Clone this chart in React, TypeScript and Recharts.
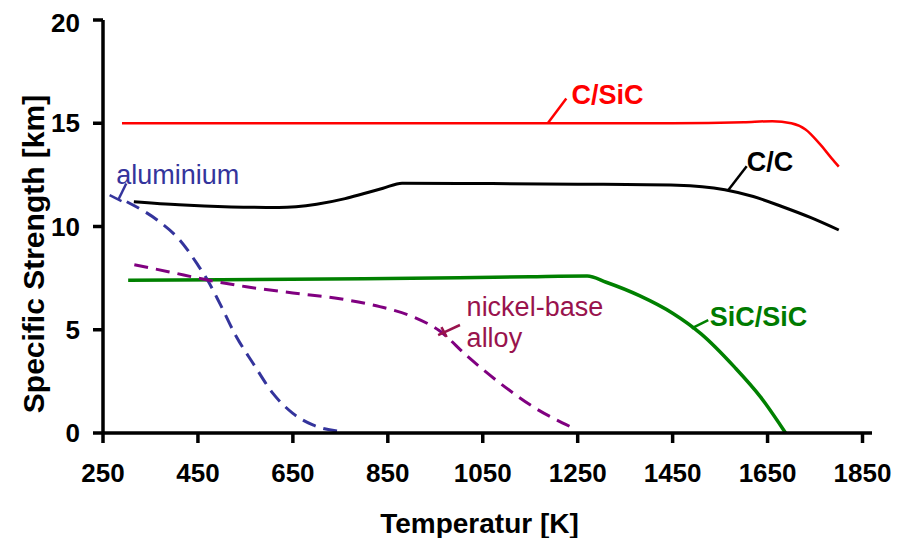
import {
  LineChart,
  Line,
  XAxis,
  YAxis,
  ReferenceLine,
  ReferenceDot,
} from "recharts";

// Specific strength [km] vs temperature [K]
const cSicT = [290, 700, 1100, 1450, 1600, 1660, 1700, 1730, 1760, 1785, 1800];
const cSicS = [15, 15, 15, 15, 15.05, 15.1, 15.0, 14.7, 14.0, 13.3, 12.9];

const ccT = [315, 410, 520, 620, 700, 760, 800, 840, 880, 1050, 1250, 1460, 1560, 1620, 1680, 1740, 1800];
const ccS = [11.2, 11.05, 10.95, 10.92, 11.08, 11.35, 11.6, 11.85, 12.1, 12.08, 12.05, 12.0, 11.78, 11.45, 10.97, 10.44, 9.83];

const sicT = [303, 500, 800, 1000, 1150, 1270, 1310, 1380, 1450, 1510, 1580, 1635, 1688];
const sicS = [7.4, 7.42, 7.47, 7.52, 7.57, 7.6, 7.3, 6.65, 5.8, 4.8, 3.2, 1.75, 0];

const aluT = [300, 369, 412, 450, 468, 496, 531, 566, 608, 650, 692, 756];
const aluS = [11.2, 10.23, 9.34, 8.13, 7.49, 6.28, 4.66, 3.38, 1.92, 0.95, 0.39, 0.06];

const niT = [316, 390, 468, 552, 650, 749, 833, 904, 959, 1016, 1086, 1156, 1235];
const niS = [8.15, 7.8, 7.42, 7.08, 6.78, 6.5, 6.12, 5.62, 4.95, 3.75, 2.42, 1.27, 0.3];

const xTicks = [250, 450, 650, 850, 1050, 1250, 1450, 1650, 1850];
const yTicks = [0, 5, 10, 15, 20];

const toPoints = (t: number[], s: number[]) => t.map((x, i) => ({ t: x, s: s[i] }));

const FONT = "'Liberation Sans', Arial, sans-serif";

const RED = "#ff0000";
const GREEN = "#008000";
const BLUE = "#34349c";
const PURPLE = "#800080";
const MAROON = "#99134d";

const YTitle = () => (
  <text
    x={36}
    y={246}
    transform="rotate(-90, 36, 246)"
    textAnchor="middle"
    fontFamily={FONT}
    fontWeight="bold"
    fontSize={30}
    fill="#000"
  >
    Specific Strength  [km]
  </text>
);

const tag = (value: string, fill: string, bold: boolean) => ({
  value,
  position: "right" as const,
  offset: 0,
  fill,
  fontSize: 27,
  fontWeight: bold ? "bold" : "normal",
  fontFamily: FONT,
});

const tickStyle = { fill: "#000", fontSize: 26, fontWeight: "bold", fontFamily: FONT };

export default function App() {
  return (
    <LineChart
      width={892}
      height={530}
      margin={{ top: 12, right: 28, left: 0, bottom: 0 }}
      style={{ fontFamily: FONT }}
    >
      <XAxis
        dataKey="t"
        type="number"
        domain={[250, 1870]}
        ticks={xTicks}
        allowDataOverflow
        height={105}
        axisLine={{ stroke: "#000", strokeWidth: 3.5 }}
        tickLine={{ stroke: "#000", strokeWidth: 3.5 }}
        tickSize={10}
        tickMargin={21}
        tick={tickStyle}
        label={{
          value: "Temperatur [K]",
          position: "insideBottom",
          offset: 5,
          dx: -8,
          fill: "#000",
          fontSize: 28,
          fontWeight: "bold",
          fontFamily: FONT,
        }}
      />
      <YAxis
        type="number"
        domain={[0, 20]}
        ticks={yTicks}
        width={95}
        axisLine={{ stroke: "#000", strokeWidth: 3.5 }}
        tickLine={{ stroke: "#000", strokeWidth: 3.5 }}
        tickSize={10}
        tickMargin={13}
        tick={tickStyle}
        label={{ content: () => <YTitle /> }}
      />

      <Line data={toPoints(cSicT, cSicS)} dataKey="s" type="monotone" stroke={RED} strokeWidth={2.5} dot={false} activeDot={false} isAnimationActive={false} />
      <Line data={toPoints(ccT, ccS)} dataKey="s" type="monotone" stroke="#000" strokeWidth={3} dot={false} activeDot={false} isAnimationActive={false} />
      <Line data={toPoints(sicT, sicS)} dataKey="s" type="monotone" stroke={GREEN} strokeWidth={3.5} dot={false} activeDot={false} isAnimationActive={false} />
      <Line data={toPoints(aluT, aluS)} dataKey="s" type="monotone" stroke={BLUE} strokeWidth={3} strokeDasharray="14 8" dot={false} activeDot={false} isAnimationActive={false} />
      <Line data={toPoints(niT, niS)} dataKey="s" type="monotone" stroke={PURPLE} strokeWidth={3} strokeDasharray="14 8" dot={false} activeDot={false} isAnimationActive={false} />

      {/* leader lines */}
      <ReferenceLine segment={[{ x: 1187, y: 15.0 }, { x: 1226, y: 16.2 }]} stroke={RED} strokeWidth={2.5} ifOverflow="visible" />
      <ReferenceLine segment={[{ x: 1567, y: 11.76 }, { x: 1606, y: 12.92 }]} stroke="#000" strokeWidth={2.5} ifOverflow="visible" />
      <ReferenceLine segment={[{ x: 1490, y: 5.07 }, { x: 1525, y: 5.47 }]} stroke={GREEN} strokeWidth={2.5} ifOverflow="visible" />
      <ReferenceLine segment={[{ x: 956, y: 4.74 }, { x: 1002, y: 5.23 }]} stroke={MAROON} strokeWidth={2.5} ifOverflow="visible" />
      <ReferenceLine segment={[{ x: 963, y: 5.13 }, { x: 974, y: 4.65 }]} stroke={MAROON} strokeWidth={2.5} ifOverflow="visible" />
      <ReferenceLine segment={[{ x: 282, y: 11.28 }, { x: 299, y: 12.08 }]} stroke={BLUE} strokeWidth={2.5} ifOverflow="visible" />
      <ReferenceLine segment={[{ x: 264, y: 11.52 }, { x: 289, y: 11.23 }]} stroke={BLUE} strokeWidth={2.5} ifOverflow="visible" />

      {/* series labels */}
      <ReferenceDot x={1237} y={16.41} r={0} stroke="none" fill="none" ifOverflow="visible" label={tag("C/SiC", RED, true)} />
      <ReferenceDot x={1606} y={13.17} r={0} stroke="none" fill="none" ifOverflow="visible" label={tag("C/C", "#000", true)} />
      <ReferenceDot x={1528} y={5.66} r={0} stroke="none" fill="none" ifOverflow="visible" label={tag("SiC/SiC", "#007a00", true)} />
      <ReferenceDot x={278} y={12.52} r={0} stroke="none" fill="none" ifOverflow="visible" label={tag("aluminium", BLUE, false)} />
      <ReferenceDot x={1016} y={6.15} r={0} stroke="none" fill="none" ifOverflow="visible" label={tag("nickel-base", MAROON, false)} />
      <ReferenceDot x={1016} y={4.65} r={0} stroke="none" fill="none" ifOverflow="visible" label={tag("alloy", MAROON, false)} />
    </LineChart>
  );
}
